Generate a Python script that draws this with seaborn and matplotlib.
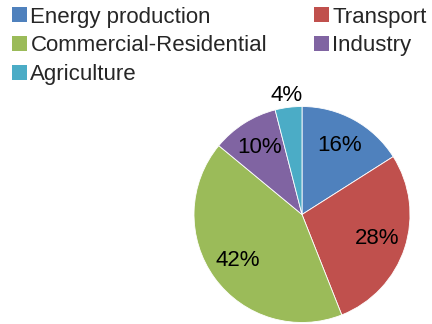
import matplotlib
matplotlib.use("Agg")
import matplotlib.pyplot as plt
import seaborn as sns
import numpy as np
from matplotlib.patches import Patch

sns.set_theme(style="white")
plt.rcParams['font.family'] = ['Liberation Sans', 'DejaVu Sans']

categories = ["Energy production", "Transport", "Commercial-Residential", "Industry", "Agriculture"]
values = [16, 28, 42, 10, 4]
colors = ["#4F81BD", "#C0504D", "#9BBB59", "#8064A2", "#4BACC6"]

fig = plt.figure(figsize=(4.32, 3.24), dpi=100)
ax = fig.add_axes([194 / 432, 1.5 / 324, 216 / 432, 216 / 324])
wedges, texts, autotexts = ax.pie(
    values, colors=colors, startangle=90, counterclock=False,
    autopct=lambda p: f"{p:.0f}%", pctdistance=0.73,
    wedgeprops=dict(edgecolor="white", linewidth=0.6),
    textprops=dict(fontsize=16, color="black"))
ax.set_xlim(-1, 1)
ax.set_ylim(-1, 1)
ax.set_aspect("equal")
ax.axis("off")

# move small slice label outside
w = wedges[4]
mid = np.deg2rad((w.theta1 + w.theta2) / 2)
autotexts[4].set_position((1.11 * np.cos(mid), 1.11 * np.sin(mid)))

order = [0, 2, 4, 1, 3]
handles = [Patch(facecolor=colors[i], edgecolor="none") for i in order]
labels = [categories[i] for i in order]
fig.legend(handles, labels, loc="upper left", bbox_to_anchor=(12 / 432, 1 - 6.5 / 324),
           ncol=2, frameon=False, fontsize=16, handlelength=0.68, handleheight=0.68,
           handletextpad=0.15, labelspacing=0.35, columnspacing=2.1, borderpad=0,
           borderaxespad=0)

fig.savefig("out.png", dpi=100)
